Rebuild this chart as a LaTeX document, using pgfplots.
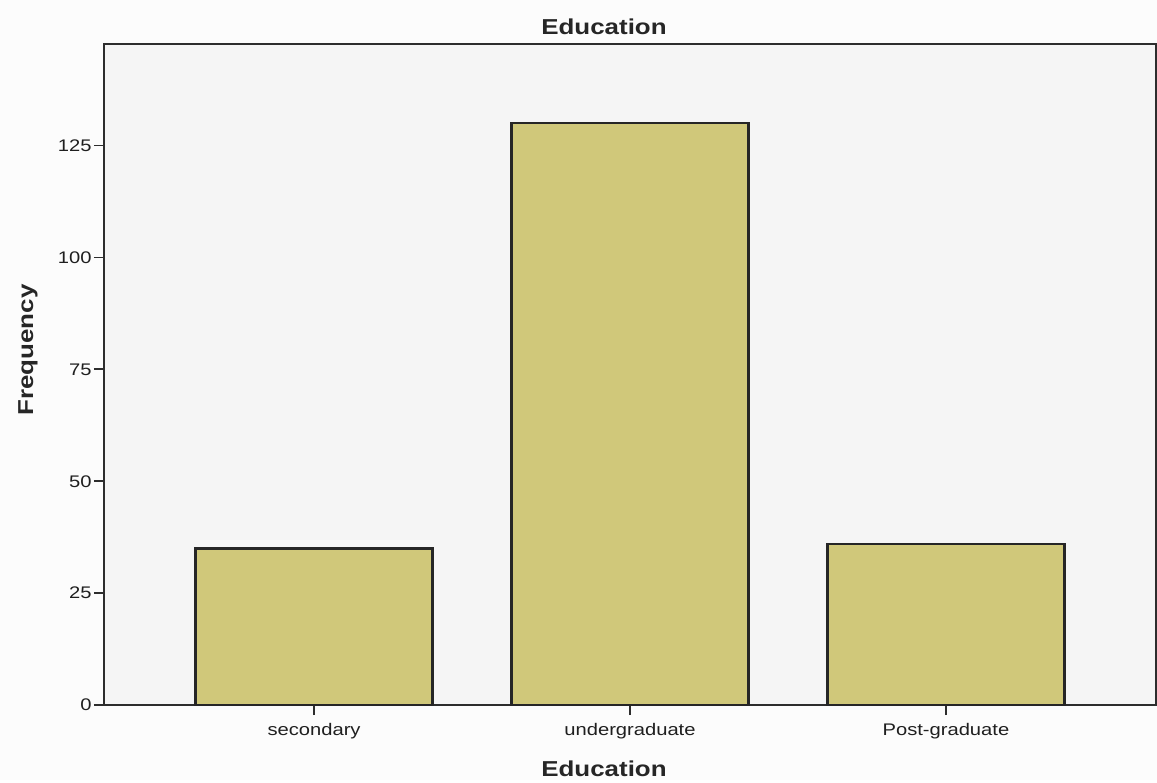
\documentclass[border=0pt]{standalone}
\usepackage{fontspec}
\setmainfont{Liberation Sans}[FakeStretch=1.2]
\usepackage{pgfplots}
\pgfplotsset{compat=1.18}

\definecolor{barfill}{RGB}{208,200,122}
\definecolor{frame}{RGB}{45,45,45}
\definecolor{plotbg}{RGB}{245,245,245}
\definecolor{pagebg}{RGB}{252,252,252}

\begin{document}
\begin{tikzpicture}
  % page background and fixed picture size
  \fill[pagebg] (0,0) rectangle (578.5pt,390pt);
  \begin{axis}[
      at={(52pt,37.5pt)}, anchor=south west,
      scale only axis,
      width=526pt, height=330.5pt,
      xmin=-0.665, xmax=2.665,
      ymin=0, ymax=147.7,
      xtick={0,1,2},
      xticklabels={secondary,undergraduate,Post-graduate},
      ytick={0,25,50,75,100,125},
      xtick pos=bottom, ytick pos=left,
      tick align=outside,
      major tick length=5pt,
      tick style={frame, line width=0.9pt},
      axis line style={frame, line width=0.9pt},
      axis background/.style={fill=plotbg},
      /pgf/number format/assume math mode=true,
      ticklabel style={font=\fontsize{8.4}{10}\selectfont, text=black!88},
      yticklabel style={inner sep=1pt},
      xticklabel style={inner sep=2pt, yshift=-2pt},
      ybar, bar width=0.75,
    ]
    \addplot[fill=barfill, draw=black!85, line width=1.2pt]
      coordinates {(0,35) (1,130) (2,36)};
  \end{axis}
  % title and axis titles
  \node[anchor=base, font=\fontsize{10.8}{13}\selectfont\bfseries, text=black!85]
    at (302pt,372.5pt) {Education};
  \node[anchor=base, font=\fontsize{10.8}{13}\selectfont\bfseries, text=black!85]
    at (302pt,2pt) {Education};
  \node[anchor=base, rotate=90, font=\fontsize{10.8}{13}\selectfont\bfseries, text=black!85]
    at (16.5pt,215pt) {Frequency};
\end{tikzpicture}
\end{document}
